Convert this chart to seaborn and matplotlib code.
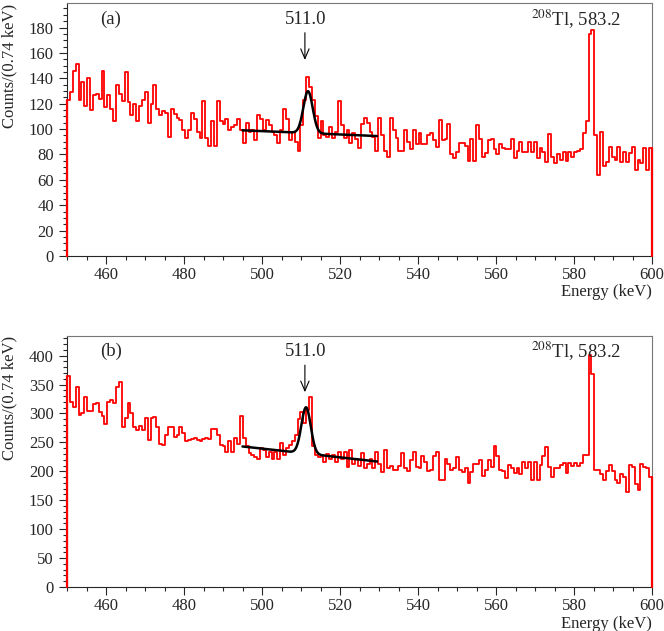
import numpy as np
import pandas as pd
import matplotlib
matplotlib.use("Agg")
import matplotlib.pyplot as plt
from matplotlib.ticker import MultipleLocator
import seaborn as sns

# 203 bins of ~0.74 keV between 450 and 600 keV
bin_edges = np.linspace(450, 600, 204)
bin_centers = 0.5 * (bin_edges[:-1] + bin_edges[1:])

counts_a = [
    123, 129, 146, 151, 123, 137, 118, 140, 115, 127, 128, 124, 146, 117, 127, 116, 106, 135, 128, 122,
    145, 121, 111, 120, 106, 118, 123, 129, 105, 120, 135, 116, 111, 114, 113, 94, 116, 112, 109,
    107, 99, 93, 99, 113, 108, 98, 93, 122, 93, 87, 106, 87, 122, 106, 104, 108, 99, 102, 103,
    108, 99, 89, 105, 98, 99, 91, 111, 108, 99, 107, 103, 98, 95, 89, 99, 116, 108, 91, 98,
    90, 83, 103, 123, 141, 133, 123, 110, 93, 106, 95, 94, 102, 93, 98, 122, 103, 93, 99, 89,
    97, 92, 85, 104, 109, 105, 98, 94, 83, 109, 95, 83, 78, 109, 99, 93, 83, 83, 99, 90,
    84, 99, 88, 97, 88, 88, 95, 97, 91, 86, 107, 91, 92, 104, 80, 77, 82, 89, 89, 87,
    75, 92, 75, 103, 92, 78, 81, 91, 92, 84, 80, 88, 85, 84, 84, 92, 77, 83, 90, 82,
    82, 90, 82, 90, 77, 85, 82, 74, 96, 78, 73, 80, 76, 82, 75, 82, 78, 82, 83, 84,
    97, 106, 175, 178, 95, 64, 98, 71, 74, 86, 78, 76, 86, 74, 82, 74, 81, 86, 68, 76,
    73, 85, 68, 85,
]

counts_b = [
    364, 320, 312, 346, 298, 300, 329, 304, 304, 317, 319, 303, 296, 282, 320, 324, 319, 346, 355, 276,
    292, 319, 300, 276, 272, 278, 272, 292, 255, 292, 294, 277, 247, 245, 263, 276, 277, 260, 263,
    276, 266, 253, 255, 256, 258, 255, 253, 256, 258, 256, 273, 273, 263, 245, 243, 234, 253, 234,
    258, 248, 295, 258, 243, 231, 228, 224, 221, 241, 237, 224, 234, 222, 234, 222, 249, 228, 240,
    245, 252, 262, 291, 303, 283, 306, 329, 243, 228, 225, 228, 217, 230, 222, 228, 217, 234, 222,
    234, 208, 237, 213, 222, 210, 232, 205, 213, 222, 206, 234, 213, 199, 237, 206, 210, 203, 203,
    210, 232, 206, 201,
    220, 234, 208, 205, 226, 217, 200, 202, 226, 234, 185, 185, 222, 212, 202, 205, 224, 202, 198, 205,
    179, 198, 213, 213, 220, 192, 202, 219, 207, 243, 226, 202, 200, 188, 211, 205, 197, 205, 196, 217,
    205, 216, 185, 216, 185, 211, 226, 242, 208, 191, 205, 206, 211, 214, 197, 215, 209, 215, 209, 214,
    229, 229, 401, 369, 202, 203, 196, 185, 200, 211, 200, 185, 180, 196, 191, 165, 211, 208, 178, 168,
    213, 208, 205, 191,
]

# fit: gaussian on a linear background (range, mean, sigma, amplitude, bkg at range ends)
fit_range = [495.0, 529.5]
fit_a = dict(mean=511.8, sigma=1.2, amp=33.0, bkg=(99.0, 94.5))
fit_b = dict(mean=511.3, sigma=1.2, amp=80.0, bkg=(243.0, 217.0))

panel_labels = ["(a)", "(b)"]
ymax = [199, 434]
ymajor = [20, 50]
yminor = [5, 10]

sns.set_style("ticks")
plt.rcParams["font.family"] = ["Liberation Serif", "DejaVu Serif"]
plt.rcParams["mathtext.fontset"] = "stix"
plt.rcParams["xtick.direction"] = "out"
plt.rcParams["ytick.direction"] = "out"

fig = plt.figure(figsize=(6.64, 6.31), dpi=100)
ax_a = fig.add_axes([67 / 664, 1 - 256 / 631, 585 / 664, 252.6 / 631])
ax_b = fig.add_axes([67 / 664, 1 - 587 / 631, 585 / 664, 251 / 631])

for i, (ax, counts, fit) in enumerate(zip([ax_a, ax_b], [counts_a, counts_b], [fit_a, fit_b])):
    df = pd.DataFrame({"energy": bin_centers, "counts": np.asarray(counts, dtype=float)})
    sns.histplot(data=df, x="energy", weights="counts", bins=list(bin_edges), element="step",
                 fill=False, color="red", linewidth=1.3, ax=ax)
    # closing edges of the histogram down to zero
    sns.lineplot(x=[bin_edges[0], bin_edges[0]], y=[0, counts[0]], color="red", estimator=None,
                 linewidth=1.6, ax=ax, sort=False, clip_on=False, zorder=5)
    sns.lineplot(x=[bin_edges[-1], bin_edges[-1]], y=[0, counts[-1]], color="red", estimator=None,
                 linewidth=1.6, ax=ax, sort=False, clip_on=False, zorder=5)

    xf = np.linspace(fit_range[0], fit_range[1], 400)
    b0, b1 = fit["bkg"]
    bkg = b0 + (b1 - b0) * (xf - fit_range[0]) / (fit_range[1] - fit_range[0])
    yf = bkg + fit["amp"] * np.exp(-0.5 * ((xf - fit["mean"]) / fit["sigma"]) ** 2)
    sns.lineplot(x=xf, y=yf, color="black", linewidth=1.8, ax=ax, sort=False)

    ax.set_xlim(450, 600)
    ax.set_ylim(0, ymax[i])
    ax.xaxis.set_major_locator(MultipleLocator(20))
    ax.xaxis.set_minor_locator(MultipleLocator(5))
    ax.yaxis.set_major_locator(MultipleLocator(ymajor[i]))
    ax.yaxis.set_minor_locator(MultipleLocator(yminor[i]))
    ax.set_xticks([460, 480, 500, 520, 540, 560, 580, 600])
    ax.tick_params(which="major", length=6, width=0.8, labelsize=12)
    ax.tick_params(axis="x", which="major", pad=2)
    ax.tick_params(which="minor", length=3, width=0.8)
    for s in ax.spines.values():
        s.set_visible(True)
        s.set_linewidth(0.8)
    ax.spines["top"].set_color("#777777")
    ax.spines["right"].set_color("#777777")

    ax.set_xlabel("Energy (keV)", loc="right", fontsize=12, labelpad=1)
    ax.set_ylabel("Counts/(0.74 keV)", loc="top", fontsize=12, labelpad=8)

    ytext = ymax[i] * 0.937
    ax.text(461.2, ytext, panel_labels[i], ha="center", va="center", fontsize=13.5)
    ax.text(511.1, ytext, "511.0", ha="center", va="center", fontsize=13.5)
    ax.annotate("", xy=(511.0, ymax[i] * 0.765), xytext=(511.0, ymax[i] * 0.895),
                arrowprops=dict(arrowstyle="->,head_length=0.7,head_width=0.3",
                                color="black", lw=0.8))
    ax.text(592.0, ytext, r"$^{208}$Tl, 583.2", ha="right", va="center", fontsize=13.5)

fig.savefig("out.png", dpi=100)
